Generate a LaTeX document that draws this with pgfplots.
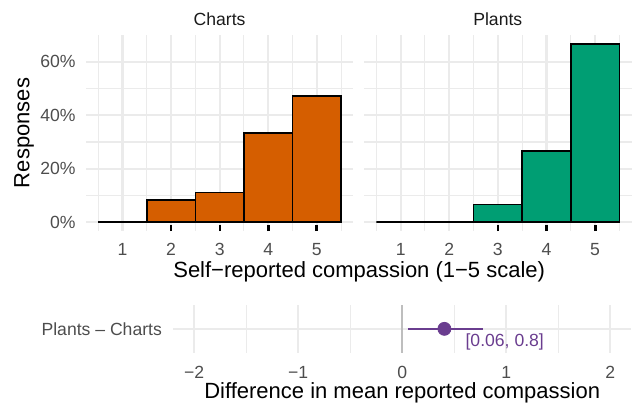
\documentclass[border=0pt]{standalone}
\usepackage{fontspec}
\setmainfont{Liberation Sans}
\usepackage{pgfplots}
\pgfplotsset{compat=1.18}
\definecolor{verm}{HTML}{D55E00}
\definecolor{bgreen}{HTML}{009E73}
\definecolor{purp}{HTML}{6A3D8F}
\definecolor{gridc}{HTML}{EBEBEB}
\definecolor{g30}{HTML}{4D4D4D}
\definecolor{g10}{HTML}{1A1A1A}
\definecolor{zeroc}{HTML}{BEBEBE}
\newcommand{\smallf}{\fontsize{8.8}{10.5}\selectfont}
\newcommand{\bigf}{\fontsize{11}{13}\selectfont}
\pgfplotsset{
  facet/.style={
    scale only axis, anchor=south west,
    width=133.65pt, height=98.15pt,
    xmin=0.25, xmax=5.75, ymin=-3.333, ymax=70,
    axis line style={draw=none},
    major tick length=0pt, minor tick length=0pt,
    grid=both,
    major grid style={gridc, line width=1.07pt},
    minor grid style={gridc, line width=0.53pt},
    xtick={1,2,3,4,5}, xticklabels={1,2,3,4,5},
    minor xtick={0.5,1.5,2.5,3.5,4.5,5.5},
    ytick={0,20,40,60},
    minor ytick={10,30,50},
    xticklabel style={font=\smallf, text=g30, inner sep=0pt, anchor=north, yshift=-5.9pt},
    yticklabel style={font=\smallf, text=g30, inner sep=0pt, anchor=east, xshift=-5pt},
  },
  barst/.style={ybar, bar width=1, bar shift=0pt, draw=black, line width=0.85pt},
  rug/.style={black, line width=1.1pt},
}
\begin{document}
\begin{tikzpicture}
\useasboundingbox (0,0) rectangle (318pt,203.5pt);
% Charts facet
\begin{axis}[facet, at={(43.0pt,87.9pt)}, yticklabels={0\%,20\%,40\%,60\%}]
\addplot[barst, fill=verm] coordinates {(1,0) (2,8.333) (3,11.111) (4,33.333) (5,47.222)};
\addplot[rug] coordinates {(2,-3.333) (2,-1.13)};
\addplot[rug] coordinates {(3,-3.333) (3,-1.13)};
\addplot[rug, line width=1.5pt] coordinates {(4,-3.333) (4,-1.13)};
\addplot[rug, line width=1.5pt] coordinates {(5,-3.333) (5,-1.13)};
\end{axis}
% Plants facet
\begin{axis}[facet, at={(182.1pt,87.9pt)}, yticklabels={}]
\addplot[barst, fill=bgreen] coordinates {(1,0) (2,0) (3,6.667) (4,26.667) (5,66.667)};
\addplot[rug] coordinates {(3,-3.333) (3,-1.13)};
\addplot[rug, line width=1.5pt] coordinates {(4,-3.333) (4,-1.13)};
\addplot[rug, line width=1.5pt] coordinates {(5,-3.333) (5,-1.13)};
\end{axis}
% strip labels and titles
\node[font=\smallf, text=g10] at (109.8pt,193.65pt) {Charts};
\node[font=\smallf, text=g10] at (248.9pt,193.65pt) {Plants};
\node[font=\bigf] at (179.6pt,67.65pt) {Self−reported compassion (1−5 scale)};
\node[font=\bigf, rotate=90] at (12.1pt,137pt) {Responses};
% Difference panel
\begin{axis}[scale only axis, anchor=south west, at={(86.65pt,27.15pt)},
  width=228.85pt, height=23.85pt,
  xmin=-2.2, xmax=2.2, ymin=0.4, ymax=1.6,
  axis line style={draw=none},
  major tick length=0pt, minor tick length=0pt,
  grid=both,
  major grid style={gridc, line width=1.07pt},
  minor grid style={gridc, line width=0.53pt},
  xtick={-2,-1,0,1,2}, xticklabels={−2,−1,0,1,2},
  minor xtick={-1.5,-0.5,0.5,1.5},
  ytick={1}, yticklabels={Plants – Charts},
  xticklabel style={font=\smallf, text=g30, inner sep=0pt, anchor=north, yshift=-6.8pt},
  yticklabel style={font=\smallf, text=g30, inner sep=0pt, anchor=east, xshift=-5.5pt},
  clip=false]
\addplot[zeroc, line width=1.1pt] coordinates {(0,0.4) (0,1.6)};
\addplot[purp, line width=1.2pt] coordinates {(0.06,1) (0.78,1)};
\addplot[only marks, mark=*, mark size=3.25pt, color=purp] coordinates {(0.406,1)};
\node[anchor=west, font=\smallf, text=purp, inner sep=0pt, yshift=-6.3pt] at (axis cs:0.606,1) {[0.06, 0.8]};
\end{axis}
\node[font=\bigf] at (201.1pt,6.85pt) {Difference in mean reported compassion};
\end{tikzpicture}
\end{document}
